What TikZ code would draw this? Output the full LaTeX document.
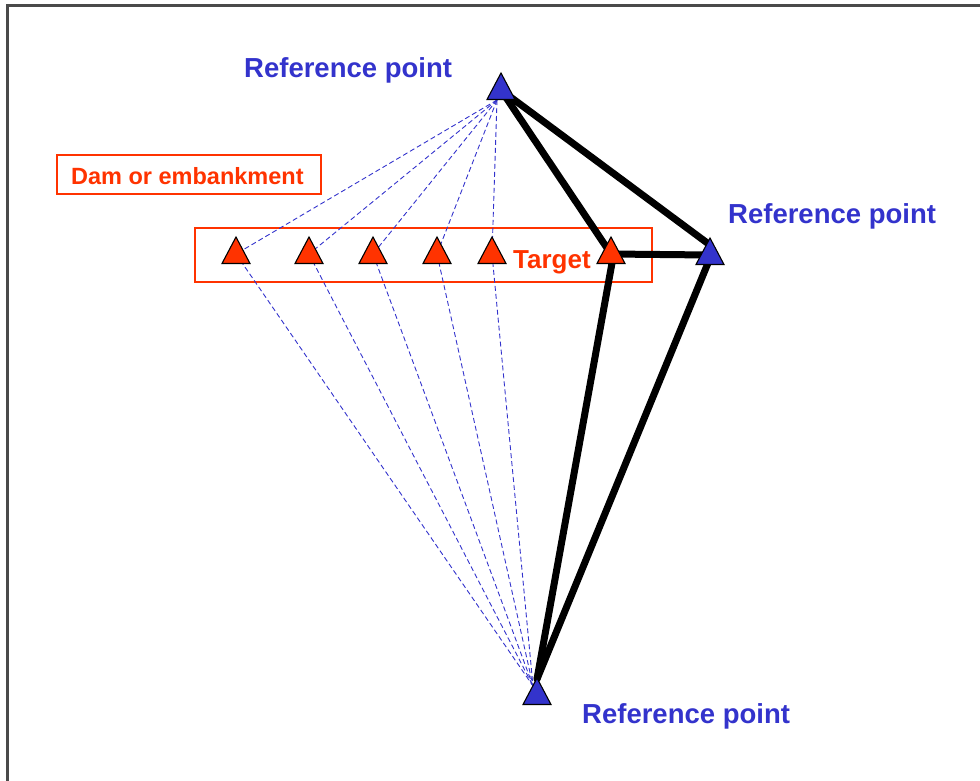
\documentclass[tikz,border=0pt]{standalone}
\usepackage{fontspec}
\setmainfont{Liberation Sans}
\usetikzlibrary{calc}
\definecolor{refblue}{HTML}{3333CC}
\definecolor{tgtred}{HTML}{FF3300}
\definecolor{framegray}{HTML}{4A4A4A}
\newcommand{\mytri}[4]{%
  \coordinate (#1) at (#2,#3);
  \coordinate (#1-a) at (#2,#3-17);
  \coordinate (#1-b) at (#2,#3+9);
  \filldraw[fill=#4,draw=black,line width=1.1pt,line join=miter]
    (#1-a) -- ++(14,26.5) -- ++(-28,0) -- cycle;}
\tikzset{
  reflabel/.style={text=refblue,font=\bfseries\fontsize{27.5}{32}\selectfont,inner sep=0pt,anchor=base west},
  tgtlabel/.style={text=tgtred,font=\bfseries\fontsize{26}{30}\selectfont,inner sep=0pt,anchor=base west},
  redbox/.style={draw=tgtred,line width=1.2pt},
  sightline/.style={draw=refblue,line width=0.9pt,dash pattern=on 5pt off 3pt},
  netline/.style={draw=black,line width=7pt,line cap=round,line join=round}
}
\begin{document}
\begin{tikzpicture}[x=1pt,y=-1pt]
\useasboundingbox (0,0) rectangle (980,780);
% frame
\draw[framegray,line width=3pt] (7,782) -- (7,5) -- (982,5);
% boxes
\node[redbox,minimum width=264pt,minimum height=39pt,inner sep=0pt] (dambox) at (189,174.5) {};
\node[tgtlabel,font=\bfseries\fontsize{23.5}{28}\selectfont] (damlabel) at (71,184) {Dam or embankment};
\node[redbox,minimum width=457pt,minimum height=54pt,inner sep=0pt] (tgtbox) at (423.5,255) {};
% anchor points for lines
\coordinate (top) at (501,90);
\coordinate (topfoot) at (497,100);
\coordinate (rgt) at (710,255);
\coordinate (rgtapex) at (710,245);
\coordinate (bot) at (537,695);
\coordinate (botapex) at (537,679);
\coordinate (botfoot) at (533,686);
\foreach \n/\x in {1/236,2/309,3/373,4/437,5/492,6/611}{
  \coordinate (t\n) at (\x,254);
}
\coordinate (t6foot) at (612,263);
\coordinate (rgtfoot) at (708,263);
% dashed sight lines
\foreach \n in {1,2,3,4,5}{
  \draw[sightline] (topfoot) -- (t\n);
  \draw[sightline] (t\n) -- (botfoot);
}
% network lines
\draw[netline] (top) -- (t6);
\draw[netline] (top) -- (rgtapex);
\draw[netline] (t6) -- (rgt);
\draw[netline] (t6foot) -- (botapex);
\draw[netline] (rgtfoot) -- (botapex);
% triangles
\mytri{T}{501}{90}{refblue}
\mytri{R}{710}{255}{refblue}
\mytri{B}{537}{695}{refblue}
\mytri{A1}{236}{254}{tgtred}
\mytri{A2}{309}{254}{tgtred}
\mytri{A3}{373}{254}{tgtred}
\mytri{A4}{437}{254}{tgtred}
\mytri{A5}{492}{254}{tgtred}
\mytri{A6}{611}{254}{tgtred}
% labels
\node[reflabel] (toplabel) at (244,77) {Reference point};
\node[reflabel] (rgtlabel) at (728,223) {Reference point};
\node[reflabel] (botlabel) at (582,723) {Reference point};
\node[tgtlabel] (tgtlabel) at (513,268) {Target};
\end{tikzpicture}
\end{document}
